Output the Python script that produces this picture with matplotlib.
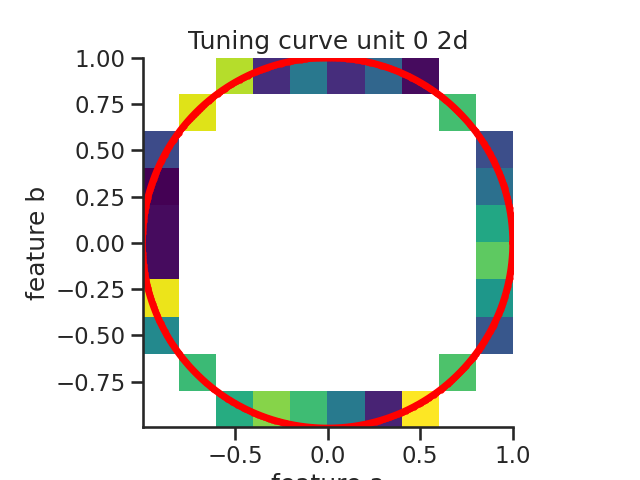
import numpy as np
import matplotlib
matplotlib.use("Agg")
import matplotlib.pyplot as plt
import seaborn as sns

sns.set_context("talk")
sns.set_style("ticks")

N = None
# tuning values per 0.2 x 0.2 bin, rows from top (b = 1) to bottom (b = -1)
tuning = [
    [N, N, 0.89, 0.13, 0.40, 0.13, 0.33, 0.03, N, N],
    [N, 0.95, N, N, N, N, N, N, 0.70, N],
    [0.23, N, N, N, N, N, N, N, N, 0.24],
    [0.00, N, N, N, N, N, N, N, N, 0.37],
    [0.03, N, N, N, N, N, N, N, N, 0.60],
    [0.03, N, N, N, N, N, N, N, N, 0.75],
    [0.97, N, N, N, N, N, N, N, N, 0.53],
    [0.47, N, N, N, N, N, N, N, N, 0.27],
    [N, 0.68, N, N, N, N, N, N, 0.72, N],
    [N, N, 0.62, 0.82, 0.69, 0.41, 0.10, 1.00, N, N],
]
radius = 1.0
n_circle = 400

grid = np.array([[np.nan if v is None else v for v in row] for row in tuning])

fig, ax = plt.subplots(figsize=(6.4, 4.8), dpi=100)
ax.imshow(grid, cmap="viridis", extent=[-1, 1, -1, 1], origin="upper",
          interpolation="nearest")

theta = np.linspace(0, 2 * np.pi, n_circle)
ax.plot(radius * np.cos(theta), radius * np.sin(theta), ".-", color="red",
        lw=5, ms=7)

ax.set_xlim(-0.995, 1)
ax.set_ylim(-0.995, 1)
ax.set_aspect("equal")
ax.set_xticks([-0.5, 0.0, 0.5, 1.0])
ax.set_yticks([-0.75, -0.5, -0.25, 0.0, 0.25, 0.5, 0.75, 1.0])
ax.set_xlabel("feature a")
ax.set_ylabel("feature b")
ax.set_title("Tuning curve unit 0 2d")
sns.despine(ax=ax)

fig.savefig("out.png", dpi=100)
